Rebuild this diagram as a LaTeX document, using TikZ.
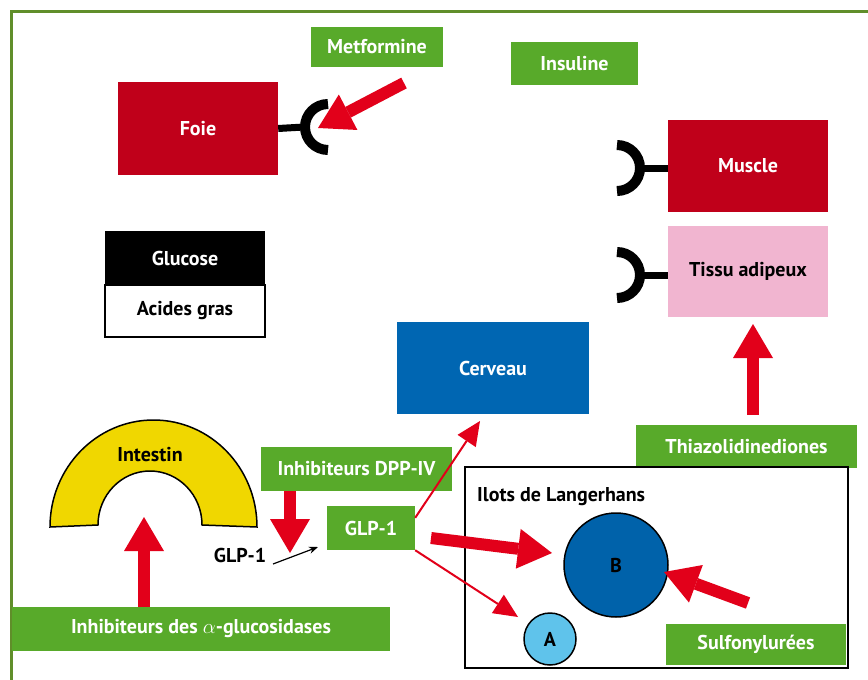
\documentclass[tikz,border=0pt]{standalone}
\usepackage{fontspec}
\setmainfont{PT Sans}
\usepackage{tikz}
\usetikzlibrary{positioning, arrows.meta, calc}

\definecolor{drugGreen}{RGB}{88,170,42}
\definecolor{frameGreen}{RGB}{96,142,42}
\definecolor{organRed}{RGB}{192,0,26}
\definecolor{arrowRed}{RGB}{226,0,26}
\definecolor{fatPink}{RGB}{241,181,208}
\definecolor{brainBlue}{RGB}{0,102,178}
\definecolor{betaBlue}{RGB}{0,98,170}
\definecolor{alphaBlue}{RGB}{95,195,235}
\definecolor{gutYellow}{RGB}{240,215,0}

\begin{document}
\begin{tikzpicture}[x=1pt, y=-1pt,
    font=\bfseries\fontsize{20}{24}\selectfont,
    box/.style={inner sep=0pt, text=white},
    drug/.style={box, fill=drugGreen},
    organ/.style={box, fill=organRed, minimum width=160pt},
    bigarrow/.style={draw=arrowRed, line width=12pt,
      -{Triangle[width=40pt, length=34pt, line width=0pt]}},
    thinarrow/.style={draw=arrowRed, line width=2pt,
      -{Triangle[width=22pt, length=24pt, line width=0pt]}},
    stalk/.style={line width=7pt},
    receptor/.style={line width=10pt}]

  \useasboundingbox (0,0) rectangle (868,680);
  \fill[white] (0,0) rectangle (868,680);
  \draw[frameGreen, line width=3pt] (11.5,11.5) rectangle (900,720);

  % organes
  \node[organ, minimum height=93pt] (foie) at (198,128.5) {Foie};
  \node[organ, minimum height=92pt] (muscle) at (748,166) {Muscle};
  \node[box, fill=fatPink, text=black, minimum width=160pt, minimum height=91pt] (tissu) at (748,271.5) {Tissu adipeux};
  \node[box, fill=brainBlue, minimum width=192pt, minimum height=92pt] (cerveau) at (493,368) {Cerveau};

  \node[box, fill=black, minimum width=160pt, minimum height=54pt] (glucose) at (185,258) {Glucose};
  \node[box, fill=white, draw=black, line width=1.5pt, text=black, minimum width=160pt, minimum height=52pt] (acides) at (185,311) {Acides gras};

  % intestin
  \draw[fill=gutYellow, line width=1.5pt] (50,527) arc[start angle=180, end angle=360, x radius=103.5, y radius=107]
    -- (202,525) arc[start angle=0, end angle=-180, x radius=52, y radius=54] -- cycle;
  \node (intestin) at (150,455) {Intestin};

  % medicaments
  \node[drug, minimum width=132pt, minimum height=40pt] (metformine) at (377,47) {Metformine};
  \node[drug, minimum width=127pt, minimum height=43pt] (insuline) at (574.5,63.5) {Insuline};
  \node[drug, minimum width=221pt, minimum height=43pt] (thiazo) at (746.5,446.5) {Thiazolidinediones};
  \node[drug, minimum width=191pt, minimum height=44pt] (dpp) at (356.5,469) {Inhibiteurs DPP-IV};
  \node[drug, minimum width=88pt, minimum height=44pt] (glp) at (371,528) {GLP-1};
  \node[drug, minimum width=378pt, minimum height=44pt] (agluc) at (201,629) {Inhibiteurs des $\alpha$-glucosidases};

  % ilots
  \draw[line width=2pt] (465,467) rectangle (848,668);
  \node[anchor=west, inner sep=0pt] (ilots) at (477,497) {Ilots de Langerhans};
  \node[circle, draw=black, line width=1.5pt, fill=betaBlue, minimum size=104pt, inner sep=0pt] (B) at (616,565) {B};
  \node[circle, draw=black, line width=1.5pt, fill=alphaBlue, minimum size=52pt, inner sep=0pt] (A) at (550,639) {A};
  \node[drug, minimum width=180pt, minimum height=41pt] (sulfo) at (756,644.5) {Sulfonylurées};

  \node (glpfree) at (240,555) {GLP-1};

  % recepteurs
  \coordinate (recFoie) at (328,127);
  \coordinate (recMuscle) at (617,168);
  \coordinate (recTissu) at (617,275);
  \draw[stalk] (foie.east) -- ($(recFoie)+(-24,0)$);
  \draw[receptor] ($(recFoie)+(0,-23)$) arc[start angle=270, end angle=90, radius=23];
  \draw[stalk] (muscle.west |- recMuscle) -- ($(recMuscle)+(24,0)$);
  \draw[receptor] ($(recMuscle)+(0,-23)$) arc[start angle=-90, end angle=90, radius=23];
  \draw[stalk] (tissu.west |- recTissu) -- ($(recTissu)+(24,0)$);
  \draw[receptor] ($(recTissu)+(0,-23)$) arc[start angle=-90, end angle=90, radius=23];

  % fleches
  \coordinate (metTail) at (404,83);
  \coordinate (metTip) at (318,128);
  \draw[bigarrow] (metTail) -- (metTip);
  \draw[bigarrow] (thiazo.north -| 753,0) ++(0,-10) -- (753,324);
  \draw[bigarrow] (dpp.south -| 290,0) -- (290,553);
  \draw[bigarrow] (agluc.north -| 144,0) -- (144,517);
  \coordinate (glpTail) at (431,538);
  \coordinate (bTip) at (552,553);
  \draw[bigarrow] (glpTail) -- (bTip);
  \coordinate (sulTail) at (748,603);
  \coordinate (sulTip) at (664,572);
  \draw[bigarrow] (sulTail) -- (sulTip);

  \draw[thinarrow] (glp.south east) -- (518,617);
  \draw[thinarrow] ($(glp.north east)+(0,12)$) -- (480,421);
  \draw[line width=1.2pt, -{Stealth[length=9pt, width=7pt]}] (273,564) -- (318,547);
\end{tikzpicture}
\end{document}
